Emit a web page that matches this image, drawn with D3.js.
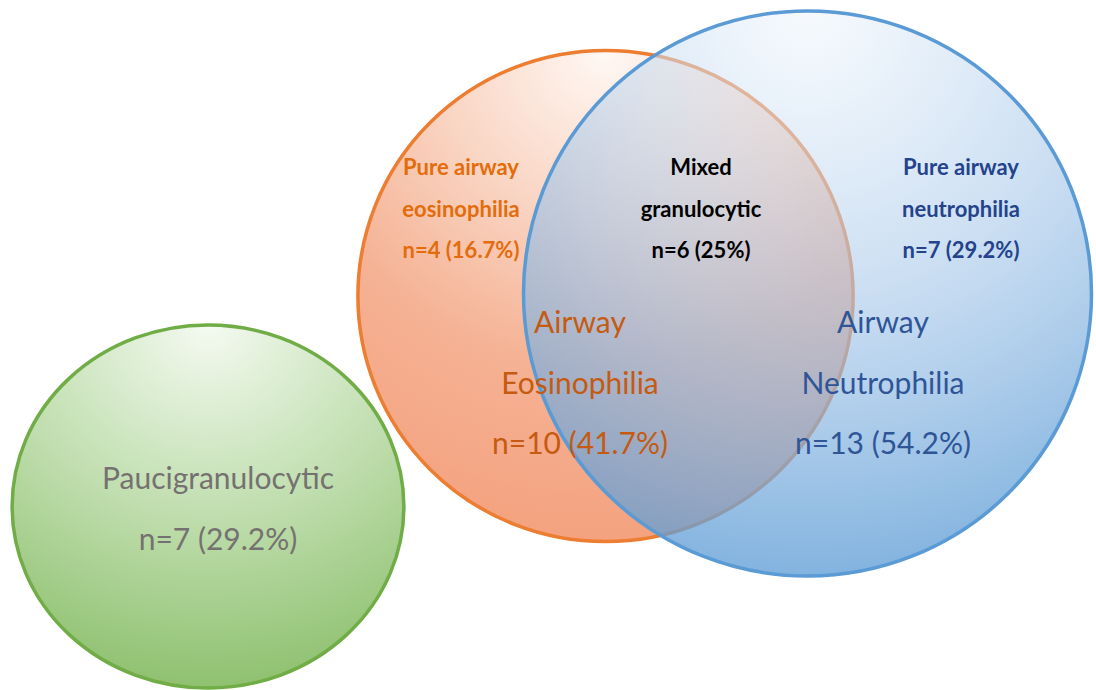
<!DOCTYPE html>
<html>
<head>
<meta charset="utf-8">
<script src="https://cdn.jsdelivr.net/npm/d3@7"></script>
<style>
  html, body { margin: 0; padding: 0; background: #ffffff; }
  svg { display: block; }
  text { font-family: Lato, "Noto Sans", sans-serif; }
</style>
</head>
<body>
<svg id="chart" width="1096" height="690"></svg>
<script>
// Sputum inflammatory phenotypes, total n = 24
const groupNames = ["Paucigranulocytic", "Airway Eosinophilia", "Airway Neutrophilia"];
const groupLines = [["Paucigranulocytic"], ["Airway", "Eosinophilia"], ["Airway", "Neutrophilia"]];
const groupCounts = [7, 10, 13];
const groupPercents = [29.2, 41.7, 54.2];

const subsetNames = ["Pure airway eosinophilia", "Mixed granulocytic", "Pure airway neutrophilia"];
const subsetLines = [["Pure airway", "eosinophilia"], ["Mixed", "granulocytic"], ["Pure airway", "neutrophilia"]];
const subsetCounts = [4, 6, 7];
const subsetPercents = [16.7, 25, 29.2];

// Drawing geometry: shape centres, shape stretch, label anchors
const shapeLayout = [
  { cx: 208, cy: 506.5, sx: 0.94, sy: 0.871, lx: 218, ly: 489, gap: 61 },
  { cx: 605.5, cy: 296, sx: 0.994, sy: 0.986, lx: 580, ly: 333, gap: 60.5 },
  { cx: 807.5, cy: 293.5, sx: 1.0, sy: 0.995, lx: 883, ly: 333, gap: 60.5 }
];
const subsetLayout = [
  { x: 461, y: 175, gap: 41.5 },
  { x: 701, y: 175, gap: 41.5 },
  { x: 961, y: 175, gap: 41.5 }
];

const shapeStyle = [
  { stroke: "#70AD47", text: "#767171",
    stops: [[0, "#F4FAF1", 1], [0.5, "#C2DFB1", 1], [1, "#8FC170", 1]] },
  { stroke: "#ED7D31", text: "#C55A11",
    stops: [[0, "#FFF8F4", 1], [0.35, "#F9D4C2", 1], [0.65, "#F5B294", 1], [1, "#F4A27F", 1]] },
  { stroke: "#5B9BD5", text: "#2F5597",
    stops: [[0, "#EEF5FC", 0.5], [0.5, "#A9C9EA", 0.6], [1, "#5B9BD5", 0.76]] }
];
const subsetColors = ["#E46C0A", "#000000", "#24438C"];

const svg = d3.select("#chart");
const defs = svg.append("defs");

// Circle area proportional to group size
const radius = d3.scaleSqrt().domain([0, d3.max(groupCounts)]).range([0, 284]);

const groups = groupNames.map((name, i) => ({
  name, lines: groupLines[i], count: groupCounts[i], pct: groupPercents[i],
  layout: shapeLayout[i], style: shapeStyle[i], id: "fill" + i
}));

groups.forEach(g => {
  const grad = defs.append("radialGradient")
    .attr("id", g.id)
    .attr("cx", 0.5).attr("cy", 0).attr("fx", 0.5).attr("fy", 0).attr("r", 1);
  grad.selectAll("stop").data(g.style.stops).join("stop")
    .attr("offset", d => d[0])
    .attr("stop-color", d => d[1])
    .attr("stop-opacity", d => d[2]);
});

svg.append("g").selectAll("ellipse").data(groups).join("ellipse")
  .attr("cx", d => d.layout.cx)
  .attr("cy", d => d.layout.cy)
  .attr("rx", d => radius(d.count) * d.layout.sx)
  .attr("ry", d => radius(d.count) * d.layout.sy)
  .attr("fill", d => `url(#${d.id})`)
  .attr("stroke", d => d.style.stroke)
  .attr("stroke-width", 3.5);

// Group labels
const fmt = (n, p) => `n=${n} (${p}%)`;
const groupLabel = svg.append("g").selectAll("text").data(groups).join("text")
  .attr("text-anchor", "middle")
  .attr("fill", d => d.style.text)
  .style("font-size", "30px");
groupLabel.selectAll("tspan")
  .data(d => d.lines.concat([fmt(d.count, d.pct)]).map((t, k) => ({ t, k, d })))
  .join("tspan")
  .attr("x", e => e.d.layout.lx)
  .attr("y", e => e.d.layout.ly + e.k * e.d.layout.gap)
  .text(e => e.t);

// Subset labels (bold)
const subsets = subsetNames.map((name, i) => ({
  name, lines: subsetLines[i], count: subsetCounts[i], pct: subsetPercents[i],
  pos: subsetLayout[i], color: subsetColors[i]
}));
const subsetLabel = svg.append("g").selectAll("text").data(subsets).join("text")
  .attr("text-anchor", "middle")
  .attr("fill", d => d.color)
  .style("font-size", "22px")
  .style("font-weight", 700);
subsetLabel.selectAll("tspan")
  .data(d => d.lines.concat([fmt(d.count, d.pct)]).map((t, k) => ({ t, k, d })))
  .join("tspan")
  .attr("x", e => e.d.pos.x)
  .attr("y", e => e.d.pos.y + e.k * e.d.pos.gap)
  .text(e => e.t);
</script>
</body>
</html>
